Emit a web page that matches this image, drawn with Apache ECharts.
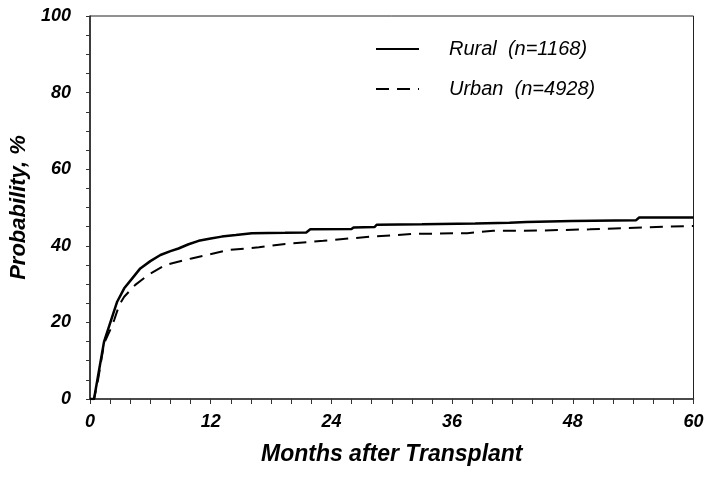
<!DOCTYPE html>
<html>
<head>
<meta charset="utf-8">
<script src="https://cdn.jsdelivr.net/npm/echarts@6/dist/echarts.min.js"></script>
<style>html,body{margin:0;padding:0;background:#fff}#c{width:712px;height:477px}</style>
</head>
<body>
<div id="c"></div>
<script>
var ruralMonths = [0, 0.4, 0.8, 1.4, 2.0, 2.7, 3.4, 4.2, 5.0, 6.0, 7.0, 8.0, 8.8, 9.8, 10.8, 12.0, 13.1, 14.5, 16.1, 19.4, 21.5, 21.9, 26.0, 26.2, 28.3, 28.5, 33.0, 33.1, 38.3, 38.4, 41.7, 41.8, 43.4, 43.5, 47.9, 48.0, 54.3, 54.6, 60];
var ruralValues = [0, 0, 6, 15, 19.8, 25.4, 28.9, 31.5, 34.1, 36.0, 37.6, 38.6, 39.3, 40.4, 41.3, 41.9, 42.4, 42.8, 43.3, 43.4, 43.5, 44.3, 44.4, 44.8, 44.9, 45.5, 45.6, 45.7, 45.8, 45.9, 46.0, 46.1, 46.2, 46.4, 46.5, 46.6, 46.7, 47.4, 47.4];
var urbanMonths = [0, 0.4, 0.8, 1.4, 2.0, 2.4, 2.9, 3.4, 4.5, 5.8, 7.5, 10.1, 13.8, 16.8, 19.4, 23.2, 27.9, 32.2, 37.5, 40.1, 45.0, 49.7, 55.0, 60];
var urbanValues = [0, 0, 5, 14.5, 18.0, 20.6, 24.5, 26.7, 29.8, 32.4, 35.0, 36.7, 38.9, 39.6, 40.5, 41.3, 42.4, 43.1, 43.3, 43.9, 44.0, 44.3, 44.8, 45.2];
var seriesNames = ['Rural  (n=1168)', 'Urban  (n=4928)'];
var xTicks = [0, 12, 24, 36, 48, 60];
var yTicks = [0, 20, 40, 60, 80, 100];

function pairs(xs, ys) { return xs.map(function (x, i) { return [x, ys[i]]; }); }

var font = '"Liberation Sans", Arial, sans-serif';
var chart = echarts.init(document.getElementById('c'));
chart.setOption({
  animation: false,
  backgroundColor: '#fff',
  grid: { left: 89.5, right: 18.5, top: 16, bottom: 78, show: true, borderColor: '#222', borderWidth: 1, backgroundColor: 'transparent' },
  legend: {
    orient: 'vertical', left: 370, top: 34, itemWidth: 43, itemHeight: 20, itemGap: 20,
    data: seriesNames,
    itemStyle: { opacity: 0 },
    textStyle: { fontFamily: font, fontStyle: 'italic', fontSize: 20, color: '#000', padding: [0, 0, 0, 25] }
  },
  xAxis: {
    type: 'value', min: xTicks[0], max: xTicks[xTicks.length - 1], interval: 12,
    name: 'Months after Transplant', nameLocation: 'middle', nameGap: 44,
    nameTextStyle: { fontFamily: font, fontStyle: 'italic', fontWeight: 'bold', fontSize: 23, color: '#000' },
    axisLine: { lineStyle: { color: '#333', width: 1.5 } },
    axisTick: { show: true, length: 5, lineStyle: { color: '#333' } },
    minorTick: { show: true, splitNumber: 6, length: 5, lineStyle: { color: '#333' } },
    splitLine: { show: false },
    axisLabel: { margin: 14, fontFamily: font, fontStyle: 'italic', fontWeight: 'bold', fontSize: 18, color: '#000' }
  },
  yAxis: {
    type: 'value', min: yTicks[0], max: yTicks[yTicks.length - 1], interval: 20,
    name: 'Probability, %', nameLocation: 'middle', nameGap: 60,
    nameTextStyle: { fontFamily: font, fontStyle: 'italic', fontWeight: 'bold', fontSize: 22, color: '#000' },
    axisLine: { show: true, lineStyle: { color: '#222', width: 1.5 } },
    axisTick: { show: true, length: 4, lineStyle: { color: '#333' } },
    minorTick: { show: true, splitNumber: 4, length: 4, lineStyle: { color: '#333' } },
    splitLine: { show: false },
    axisLabel: { margin: 19, fontFamily: font, fontStyle: 'italic', fontWeight: 'bold', fontSize: 18, color: '#000' }
  },
  series: [
    { name: seriesNames[0], type: 'line', symbol: 'none', data: pairs(ruralMonths, ruralValues),
      itemStyle: { color: '#000' },
      lineStyle: { color: '#000', width: 2.5 } },
    { name: seriesNames[1], type: 'line', symbol: 'none', data: pairs(urbanMonths, urbanValues),
      itemStyle: { color: '#000' },
      lineStyle: { color: '#000', width: 2, type: [13, 8] } }
  ]
});
</script>
</body>
</html>
